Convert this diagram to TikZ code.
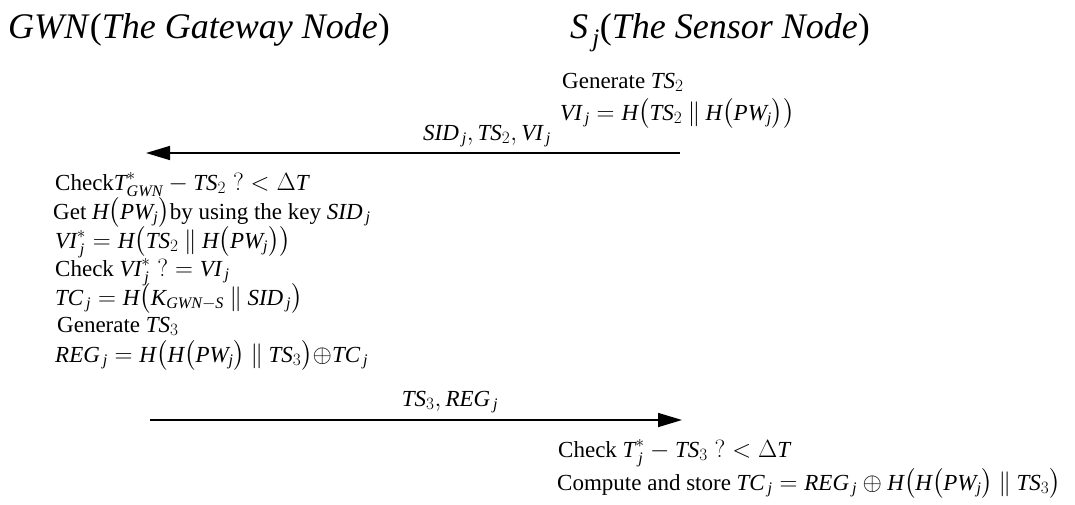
\documentclass[tikz,border=0pt]{standalone}
\usepackage{amsmath}
\usepackage{fontspec}
\setmainfont{Liberation Serif}
\usetikzlibrary{arrows.meta}
\newcommand{\itx}[1]{\textit{#1}}
\newcommand{\pll}{\mathbin{\|}}
\newcommand{\xo}{\mathord{\oplus}}
\tikzset{
  txt/.style={inner sep=0pt,anchor=base west,font=\fontsize{23}{27}\selectfont},
  ttl/.style={inner sep=0pt,anchor=base west,font=\fontsize{36}{40}\selectfont},
  lbl/.style={inner sep=0pt,anchor=base,font=\fontsize{23}{27}\selectfont},
  msg/.style={line width=1.6pt,-{Triangle[length=24pt,width=14pt]}}
}
\begin{document}
\begin{tikzpicture}[x=1pt,y=-1pt]
\useasboundingbox (0,0) rectangle (1075,504);
\node[ttl] (t1) at (8,38) {\itx{GWN}(\itx{The Gateway Node})};
\node[ttl] (t2) at (570,38) {$\itx{S}_{\,\itx{j}}$(\itx{The Sensor Node})};
\node[txt] (r1) at (562,88) {Generate $\itx{TS}_2$};
\node[txt] (r2) at (560,120) {$\itx{VI}_{\,\itx{j}}=\itx{H}\bigl(\itx{TS}_2\pll \itx{H}\bigl(\itx{PW}_{\itx{j}}\bigr)\bigr)$};
\coordinate (a1s) at (680,153);
\coordinate (a1e) at (146,153);
\draw[msg] (a1s) -- (a1e);
\node[lbl] (lab1) at (487,140) {$\itx{SID}_{\,\itx{j}},\itx{TS}_2,\itx{VI}_{\,\itx{j}}$};
\node[txt] (l1) at (55,190) {Check$\itx{T}^{*}_{\itx{GWN}}-\itx{TS}_2\;?<\Delta \itx{T}$};
\node[txt] (l2) at (53,219) {Get $\itx{H}\bigl(\itx{PW}_{\itx{j}}\bigr)$by using the key $\itx{SID}_{\,\itx{j}}$};
\node[txt] (l3) at (55,248) {$\itx{VI}^{*}_{\,\itx{j}}=\itx{H}\bigl(\itx{TS}_2\pll \itx{H}\bigl(\itx{PW}_{\itx{j}}\bigr)\bigr)$};
\node[txt] (l4) at (55,276) {Check $\itx{VI}^{*}_{\,\itx{j}}\;?=\itx{VI}_{\,\itx{j}}$};
\node[txt] (l5) at (55,305) {$\itx{TC}_{\,\itx{j}}=\itx{H}\bigl(\itx{K}_{\itx{GWN}-\itx{S}}\pll \itx{SID}_{\,\itx{j}}\bigr)$};
\node[txt] (l6) at (57,332) {Generate $\itx{TS}_3$};
\node[txt] (l7) at (55,362) {$\itx{REG}_{\,\itx{j}}=\itx{H}\bigl(\itx{H}\bigl(\itx{PW}_{\itx{j}}\bigr)\pll \itx{TS}_3\bigr)\xo \itx{TC}_{\,\itx{j}}$};
\coordinate (a2s) at (150,420);
\coordinate (a2e) at (682,420);
\draw[msg] (a2s) -- (a2e);
\node[lbl] (lab2) at (450,406) {$\itx{TS}_3,\itx{REG}_{\,\itx{j}}$};
\node[txt] (b1) at (558,457) {Check $\itx{T}^{*}_{\,\itx{j}}-\itx{TS}_3\;?<\Delta \itx{T}$};
\node[txt] (b2) at (557,490) {Compute and store $\itx{TC}_{\,\itx{j}}=\itx{REG}_{\,\itx{j}}\oplus \itx{H}\bigl(\itx{H}\bigl(\itx{PW}_{\itx{j}}\bigr)\pll \itx{TS}_3\bigr)$};
\end{tikzpicture}
\end{document}
